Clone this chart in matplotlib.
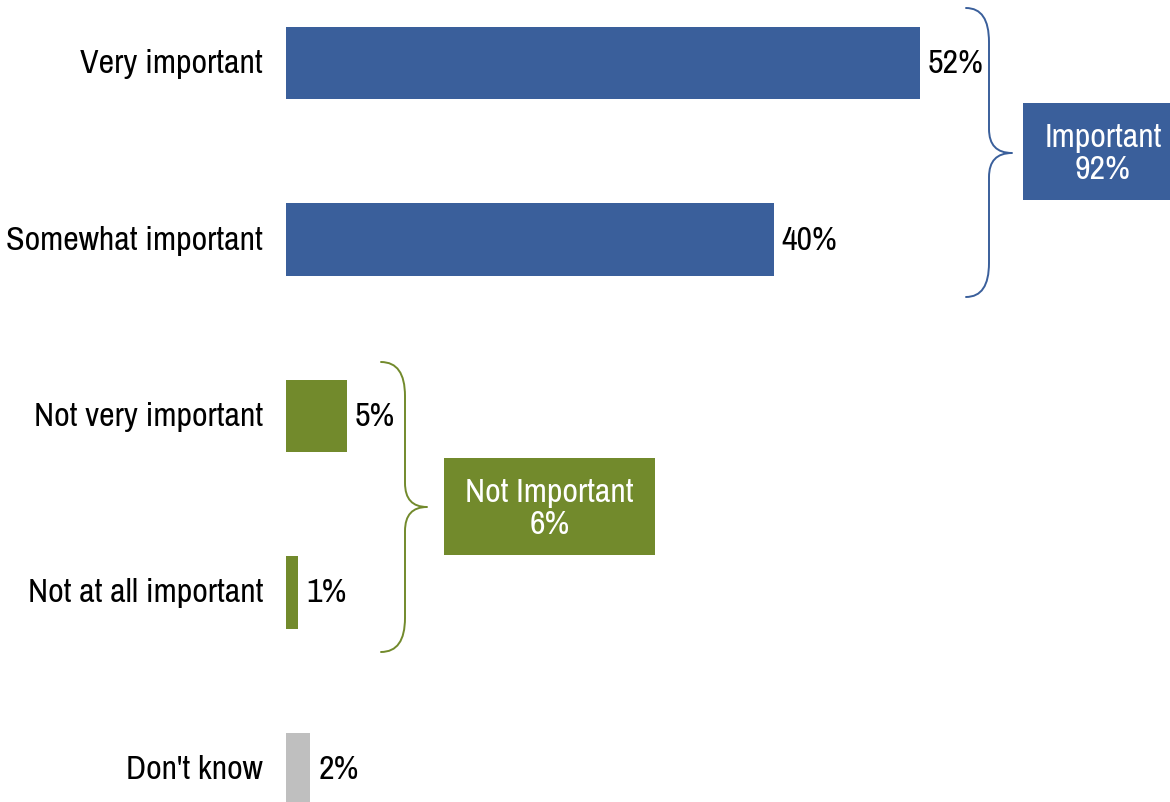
import matplotlib
matplotlib.use("Agg")
import matplotlib.pyplot as plt
from matplotlib.path import Path
from matplotlib.patches import PathPatch, Rectangle
from matplotlib import font_manager

# Survey responses (percent)
categories = ["Very important", "Somewhat important", "Not very important",
              "Not at all important", "Don't know"]
values = [52, 40, 5, 1, 2]
groups = ["imp", "imp", "not", "not", "dk"]

BLUE = "#3A5F9B"
GREEN = "#728A2C"
GRAY = "#BFBFBF"
colors = {"imp": BLUE, "not": GREEN, "dk": GRAY}

# Narrow sans-serif for all text
avail = {f.name for f in font_manager.fontManager.ttflist}
preferred = ["Liberation Sans Narrow", "Arial Narrow", "Archivo Narrow",
             "Roboto Condensed", "PT Sans Narrow", "IBM Plex Sans Condensed"]
FONT = next((f for f in preferred if f in avail), "DejaVu Sans")
plt.rcParams["font.family"] = [FONT, "DejaVu Sans"]

W, H = 1170, 803
fig = plt.figure(figsize=(W / 100, H / 100), dpi=100)
ax = fig.add_axes([0, 0, 1, 1])

px_per_pct = 12.19
x0_px = 286
ax.set_xlim(-x0_px / px_per_pct, (W - x0_px) / px_per_pct)
spacing = 176.5
first = 64
ax.set_ylim((H - first) / spacing, -first / spacing)
ax.axis("off")

FS = 24.5
ypos = list(range(len(categories)))
ax.barh(ypos, values, height=0.408, color=[colors[g] for g in groups], left=0)

for y, v, c in zip(ypos, values, categories):
    ax.text(-23 / px_per_pct, y, c, ha="right", va="center", fontsize=FS, color="black")
    ax.text(v + 8 / px_per_pct, y, f"{v}%", ha="left", va="center", fontsize=FS, color="black")

# Overlay in pixel coordinates for braces and summary boxes
ov = fig.add_axes([0, 0, 1, 1])
ov.set_xlim(0, W)
ov.set_ylim(H, 0)
ov.axis("off")
ov.patch.set_alpha(0)


def brace(x_tip, x_mid, x_pt, y_top, y_bot, y_mid, color, r1=34, r2=24):
    verts = [(x_tip, y_top), (x_mid, y_top), (x_mid, y_top + r1),
             (x_mid, y_mid - r2),
             (x_mid, y_mid), (x_pt, y_mid),
             (x_mid, y_mid), (x_mid, y_mid + r2),
             (x_mid, y_bot - r1),
             (x_mid, y_bot), (x_tip, y_bot)]
    codes = [Path.MOVETO, Path.CURVE3, Path.CURVE3,
             Path.LINETO,
             Path.CURVE3, Path.CURVE3,
             Path.CURVE3, Path.CURVE3,
             Path.LINETO,
             Path.CURVE3, Path.CURVE3]
    ov.add_patch(PathPatch(Path(verts, codes), fill=False, edgecolor=color,
                           lw=1.4, capstyle="round", joinstyle="round"))


important = values[0] + values[1]
not_important = values[2] + values[3]

brace(966, 989, 1012, 9, 298, 154, BLUE)
ov.add_patch(Rectangle((1023, 104), W - 1023, 97, color=BLUE, lw=0))
ov.text(1103, 154, f"Important\n{important}%", ha="center", va="center",
        fontsize=FS, color="white", linespacing=1.1)

brace(381, 405, 427, 363, 653, 508, GREEN)
ov.add_patch(Rectangle((444, 459), 211, 97, color=GREEN, lw=0))
ov.text(549.5, 509, f"Not Important\n{not_important}%", ha="center", va="center",
        fontsize=FS, color="white", linespacing=1.1)

fig.savefig("out.png", dpi=100)
